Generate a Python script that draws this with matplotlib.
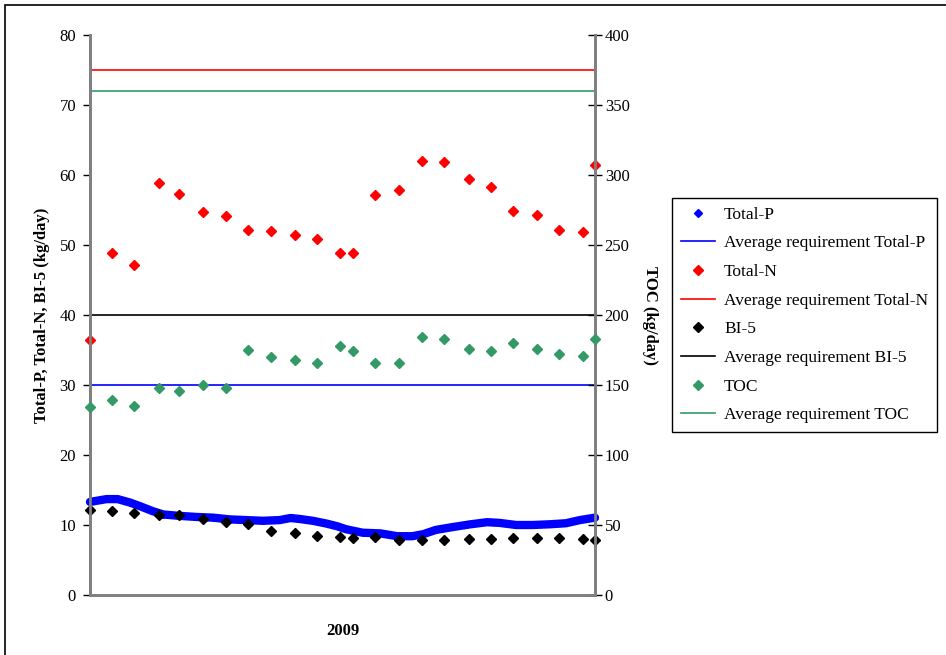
import matplotlib
matplotlib.use("Agg")
import matplotlib.pyplot as plt
from matplotlib.lines import Line2D
from matplotlib.patches import Rectangle

# sample days (day of year 2009, 0 = 1 Jan) for the grab samples
sample_day = [0, 16, 32, 50, 64, 82, 98, 114, 131, 148, 164, 181, 190,
              206, 223, 240, 256, 274, 290, 306, 323, 339, 356, 365]
total_n = [36.5, 48.8, 47.1, 58.9, 57.3, 54.7, 54.1, 52.1, 52.0, 51.4, 50.9, 48.8,
           48.8, 57.1, 57.9, 62.0, 61.8, 59.5, 58.3, 54.9, 54.3, 52.1, 51.9, 61.4]
bi5 = [12.1, 12.0, 11.7, 11.5, 11.4, 10.9, 10.4, 10.2, 9.2, 8.8, 8.5, 8.3,
       8.1, 8.3, 7.8, 7.8, 7.8, 8.0, 8.0, 8.1, 8.1, 8.1, 8.0, 7.8]
toc = [134, 139, 135, 148, 146, 150, 148, 175, 170, 168, 166, 178,
       174, 166, 166, 184, 183, 176, 174, 180, 176, 172, 171, 183]

# Total-P
p_day = [0, 12, 20, 29, 36, 45, 53, 65, 77, 89, 101, 113, 125, 137, 145, 152, 161, 171,
         179, 185, 197, 210, 222, 233, 241, 250, 262, 275, 287, 296, 308, 320, 332, 344,
         354, 365]
total_p = [13.3, 13.7, 13.7, 13.2, 12.7, 12.0, 11.5, 11.3, 11.15, 11.05, 10.8, 10.7,
           10.6, 10.7, 11.0, 10.85, 10.6, 10.2, 9.8, 9.4, 8.9, 8.8, 8.4, 8.4, 8.7, 9.3,
           9.7, 10.1, 10.4, 10.3, 10.0, 10.0, 10.1, 10.25, 10.7, 11.05]

req_p = 30
req_n = 75
req_bi5 = 40
req_toc = 360

green = "#339966"
serif = ["Liberation Serif", "DejaVu Serif"]
plt.rcParams["font.family"] = serif

fig = plt.figure(figsize=(9.46, 6.55), dpi=100)
ax = fig.add_axes([90 / 946, 60 / 655, 505 / 946, 560 / 655])
ax2 = ax.twinx()

ax.plot(p_day, total_p, color="blue", lw=6, solid_capstyle="round", zorder=3, clip_on=False)
ax.plot(p_day, total_p, "D", color="blue", ms=3, zorder=3, clip_on=False)
ax.axhline(req_p, color="blue", lw=1.2)
ax.plot(sample_day, total_n, "D", color="red", ms=5.5, ls="none", zorder=4, clip_on=False)
ax.axhline(req_n, color="red", lw=1.2)
ax.plot(sample_day, bi5, "D", color="black", ms=5.5, ls="none", zorder=4, clip_on=False)
ax.axhline(req_bi5, color="black", lw=1.2)
ax2.plot(sample_day, toc, "D", color=green, ms=5.5, ls="none", zorder=4, clip_on=False)
ax2.axhline(req_toc, color=green, lw=1.2)

ax.set_xlim(0, 365)
ax.set_ylim(0, 80)
ax2.set_ylim(0, 400)
ax.set_yticks(range(0, 81, 10))
ax2.set_yticks(range(0, 401, 50))
ax.set_xticks([])

for a in (ax, ax2):
    a.spines["top"].set_visible(False)
    for s in ("left", "right", "bottom"):
        a.spines[s].set_color("#808080")
        a.spines[s].set_linewidth(2)
ax.tick_params(axis="y", direction="out", length=5, width=1, pad=5, labelsize=12)
ax2.tick_params(axis="y", direction="inout", length=10, width=1, pad=2, labelsize=12)

ax.set_ylabel("Total-P, Total-N, BI-5 (kg/day)", fontsize=12, fontweight="bold")
ax.yaxis.set_label_coords(-40 / 505, 0.5)
ax2.set_ylabel("TOC (kg/day)", fontsize=12, fontweight="bold", rotation=-90, va="center")
ax2.yaxis.set_label_coords(1 + 55 / 505, 0.5)
ax.set_xlabel("2009", fontsize=12, fontweight="bold", labelpad=20)

handles = [
    Line2D([], [], marker="D", color="blue", ms=4, ls="none"),
    Line2D([], [], color="blue", lw=1.2),
    Line2D([], [], marker="D", color="red", ms=5.5, ls="none"),
    Line2D([], [], color="red", lw=1.2),
    Line2D([], [], marker="D", color="black", ms=5.5, ls="none"),
    Line2D([], [], color="black", lw=1.2),
    Line2D([], [], marker="D", color=green, ms=5.5, ls="none"),
    Line2D([], [], color=green, lw=1.2),
]
labels = ["Total-P", "Average requirement Total-P", "Total-N", "Average requirement Total-N",
          "BI-5", "Average requirement BI-5", "TOC", "Average requirement TOC"]
leg = fig.legend(handles, labels, loc="upper left", bbox_to_anchor=(672 / 946, 1 - 198 / 655),
                 borderaxespad=0, fancybox=False, edgecolor="black", fontsize=12.5,
                 handlelength=2.0, handletextpad=0.5, labelspacing=0.72, borderpad=0.5,
                 framealpha=1)
leg.get_frame().set_linewidth(1)

fig.patches.append(Rectangle((5 / 946, -0.1), 1.2, 1.1 - 5 / 655, transform=fig.transFigure,
                             fill=False, edgecolor="black", lw=1.2))

fig.savefig("out.png", dpi=100)
